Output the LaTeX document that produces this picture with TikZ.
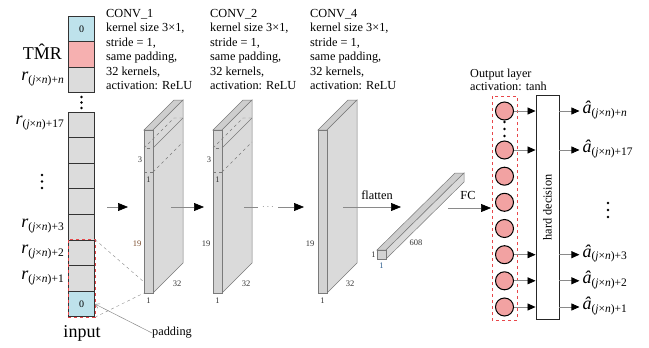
\documentclass[tikz,border=0pt]{standalone}
\usepackage{fontspec}
\setmainfont{Liberation Serif}
\usetikzlibrary{arrows.meta}

\definecolor{cellgray}{HTML}{DCDCDC}
\definecolor{cellblue}{HTML}{BEE2EB}
\definecolor{cellpink}{HTML}{F6B0B0}
\definecolor{neuron}{HTML}{F2A2A2}
\definecolor{dashred}{HTML}{E8474A}
\definecolor{linegray}{HTML}{8A8A8A}
\definecolor{facefront}{HTML}{D3D3D3}
\definecolor{faceside}{HTML}{DADADA}
\definecolor{facetop}{HTML}{CECECE}
\definecolor{edgegray}{HTML}{7A7A7A}
\definecolor{dimbrown}{HTML}{7A4A2A}
\definecolor{dimblue}{HTML}{2F5F8F}

% index subscript (j x n)+k
\newcommand{\idx}[1]{\raisebox{-0.55ex}{\fontsize{11.5}{11.5}\selectfont(\textit{j}×\textit{n})+#1}}
\newcommand{\biglab}{\fontsize{18}{18}\selectfont}

% a feature-map slab with its front face at x = #1
\newcommand{\convblock}[1]{%
  \filldraw[fill=facetop,draw=edgegray,line width=0.5pt]
    (#1,130) -- (#1+30,100) -- (#1+39,100) -- (#1+9,130) -- cycle;
  \filldraw[fill=faceside,draw=edgegray,line width=0.5pt]
    (#1+9,130) -- (#1+39,100) -- (#1+39,263) -- (#1+9,293) -- cycle;
  \filldraw[fill=facefront,draw=edgegray,line width=0.5pt]
    (#1,130) rectangle (#1+9,293);
}
% the 3x1 kernel drawn inside a slab
\newcommand{\kernelbox}[1]{%
  \draw[dashed,edgegray,line width=0.4pt] (#1,148) rectangle (#1+9,172);
  \draw[dashed,edgegray,line width=0.4pt] (#1,148) -- (#1+30,118) -- (#1+39,118);
  \draw[edgegray,line width=0.4pt] (#1+9,148) -- (#1+39,118);
  \draw[dashed,edgegray,line width=0.4pt] (#1+9,172) -- (#1+39,142);
}

\tikzset{
  cell/.style={draw=black!80,line width=0.9pt,minimum width=26pt,minimum height=25.6pt,
    inner sep=0pt,font=\fontsize{10}{10}\selectfont,fill=cellgray},
  dim/.style={font=\fontsize{8.5}{8.5}\selectfont,inner sep=0pt,text=black!80},
  note/.style={font=\fontsize{12.3}{14.5}\selectfont,align=left,inner sep=0pt},
  arr/.style={draw=linegray,line width=0.7pt,-{Triangle[length=10pt,width=8pt,color=black]}},
  sarr/.style={draw=linegray,line width=0.7pt,-{Triangle[length=8pt,width=7pt,color=black]}},
  neu/.style={circle,draw=black,line width=1pt,fill=neuron,minimum size=18pt,inner sep=0pt},
  dotmark/.style={circle,fill=black,inner sep=0pt,minimum size=2.6pt},
  thin/.style={draw=linegray,line width=0.5pt}
}

\begin{document}
\begin{tikzpicture}[x=1pt,y=-1pt]
\useasboundingbox (0,0) rectangle (649,348);

% ---------- input column ----------
\node[cell,fill=cellblue] (c1) at (81.5,28.8) {0};
\node[cell,fill=cellpink] (c2) at (81.5,54.4) {};
\node[cell] (c3) at (81.5,80.0) {};
\node[cell] (c4) at (81.5,124.8) {};
\node[cell] (c5) at (81.5,150.4) {};
\node[cell] (c6) at (81.5,176.0) {};
\node[cell] (c7) at (81.5,201.6) {};
\node[cell] (c8) at (81.5,227.2) {};
\node[cell] (c9) at (81.5,252.8) {};
\node[cell] (c10) at (81.5,278.4) {};
\node[cell,fill=cellblue] (c11) at (81.5,304.0) {0};
\draw[dashred,dashed,line width=0.8pt] (c9.north west) rectangle (c11.south east);
\foreach \yy in {97,102.5,108} \node[dotmark] at (81.5,\yy) {};

% labels left of the column
\node[anchor=east,inner sep=0pt,font=\biglab] (ltmr) at (62,52) {T\^{M}R};
\node[anchor=east,inner sep=0pt] (ln) at (64,79) {{\biglab\textit{r}}\idx{\textit{n}}};
\node[anchor=east,inner sep=0pt] (l17) at (64,123) {{\biglab\textit{r}}\idx{17}};
\node[anchor=east,inner sep=0pt] (l3) at (64,226) {{\biglab\textit{r}}\idx{3}};
\node[anchor=east,inner sep=0pt] (l2) at (64,252) {{\biglab\textit{r}}\idx{2}};
\node[anchor=east,inner sep=0pt] (l1) at (64,278) {{\biglab\textit{r}}\idx{1}};
\foreach \yy in {175,181.5,188} \node[dotmark] at (42,\yy) {};
\node[font=\fontsize{18}{18}\selectfont,inner sep=0pt] (inlab) at (82,333) {input};

% ---------- conv layer descriptions ----------
\node[note,anchor=north west] (t1) at (106,8.8) {CONV\_1\\kernel size 3×1,\\stride = 1,\\same padding,\\32 kernels,\\activation: ReLU};
\node[note,anchor=north west] (t2) at (210,8.8) {CONV\_2\\kernel size 3×1,\\stride = 1,\\same padding,\\32 kernels,\\activation: ReLU};
\node[note,anchor=north west] (t4) at (310,8.8) {CONV\_4\\kernel size 3×1,\\stride = 1,\\same padding,\\32 kernels,\\activation: ReLU};

% ---------- feature maps ----------
\convblock{144}
\kernelbox{144}
\convblock{213}
\kernelbox{213}
\convblock{318}

\node[dim] at (140,160) {3};
\node[dim] at (148.5,180) {1};
\node[dim,text=dimbrown] at (137,244) {19};
\node[dim] at (177,284) {32};
\node[dim] at (148.5,301) {1};

\node[dim] at (209,160) {3};
\node[dim] at (217.5,180) {1};
\node[dim] at (206,244) {19};
\node[dim] at (246,284) {32};
\node[dim] at (217.5,301) {1};

\node[dim] at (310,244) {19};
\node[dim] at (350,284) {32};
\node[dim] at (322.5,301) {1};

% receptive field of the first kernel
\coordinate (k1) at (144,282);
\coordinate (k2) at (144,293);
\draw[thin,dashed,line width=0.4pt] (c9.north east) -- (k1);
\draw[thin,dashed,line width=0.4pt] (c11.south east) -- (k2);

% padding note
\node[font=\fontsize{12.3}{12.3}\selectfont,inner sep=0pt,anchor=west] (pad) at (152,333) {padding};
\draw[thin,-{Straight Barb[length=4pt,width=5pt]}] (pad.west) -- (c11.east);

% ---------- flattened vector ----------
\filldraw[fill=facetop,draw=edgegray,line width=0.5pt]
  (377,250) -- (455,173) -- (464,173) -- (386,250) -- cycle;
\filldraw[fill=faceside,draw=edgegray,line width=0.5pt]
  (386,250) -- (464,173) -- (464,182) -- (386,259) -- cycle;
\filldraw[fill=facefront,draw=edgegray,line width=0.5pt] (377,250) rectangle (386,259);
\node[dim] at (373.5,255) {1};
\node[dim,text=dimblue] at (381.5,266) {1};
\node[dim] at (416,243) {608};

% ---------- arrows between stages ----------
\coordinate (a0) at (107,207);  \coordinate (a0e) at (128,207);
\coordinate (a1) at (171,207);  \coordinate (a1e) at (204,207);
\coordinate (a2) at (244,207);  \coordinate (a2m) at (258,207);
\coordinate (a2n) at (278,207); \coordinate (a2e) at (304,207);
\coordinate (a3) at (343,207);  \coordinate (a3e) at (401,207);
\coordinate (a4) at (448,208);
\draw[arr] (a0) -- (a0e);
\draw[arr] (a1) -- (a1e);
\draw[thin,line width=0.7pt] (a2) -- (a2m);
\node[text=linegray,inner sep=0pt] (ell) at (268,207) {$\cdots$};
\draw[arr] (a2n) -- (a2e);
\draw[arr] (a3) -- (a3e);
\node[font=\fontsize{12.3}{12.3}\selectfont,inner sep=0pt] (flat) at (377,195) {flatten};
\node[font=\fontsize{12.3}{12.3}\selectfont,inner sep=0pt] (fc) at (468,195) {FC};

% ---------- output layer ----------
\node[note,anchor=north west,font=\fontsize{12.2}{13.4}\selectfont] (outt) at (470,68.6) {Output layer\\activation: tanh};
\node[neu] (n1) at (504.5,111) {};
\node[neu] (n2) at (504.5,150) {};
\node[neu] (n3) at (504.5,176.2) {};
\node[neu] (n4) at (504.5,202.3) {};
\node[neu] (n5) at (504.5,228.5) {};
\node[neu] (n6) at (504.5,254.7) {};
\node[neu] (n7) at (504.5,280.8) {};
\node[neu] (n8) at (504.5,307) {};
\foreach \yy in {122,129,136} \node[dotmark] at (504.5,\yy) {};
\draw[dashred,dashed,line width=0.8pt] (492,96) rectangle (517,320);
\coordinate (fcend) at (491,208);
\draw[arr] (a4) -- (fcend);

\node[draw=black!85,line width=0.9pt,fill=white,minimum width=23pt,minimum height=224pt,inner sep=0pt] (hd) at (547.5,207.5) {};
\node[rotate=90,font=\fontsize{12.3}{12.3}\selectfont,inner sep=0pt] (hdt) at (hd.center) {hard decision};

\foreach \k in {1,2,6,7,8} \draw[sarr] (n\k.east) -- (n\k.east -| hd.west);

% decisions
\foreach \k/\lab in {1/\textit{n},2/17,6/3,7/2,8/1}{
  \coordinate (o\k) at ([xshift=20pt]n\k -| hd.east);
  \draw[sarr] (n\k -| hd.east) -- (o\k);
  \node[anchor=west,inner sep=0pt] (al\k) at ([xshift=3pt,yshift=1pt]o\k) {{\biglab\textit{â}}\idx{\lab}};
}
\foreach \yy in {203,210,217} \node[dotmark] at (608,\yy) {};

\end{tikzpicture}
\end{document}
